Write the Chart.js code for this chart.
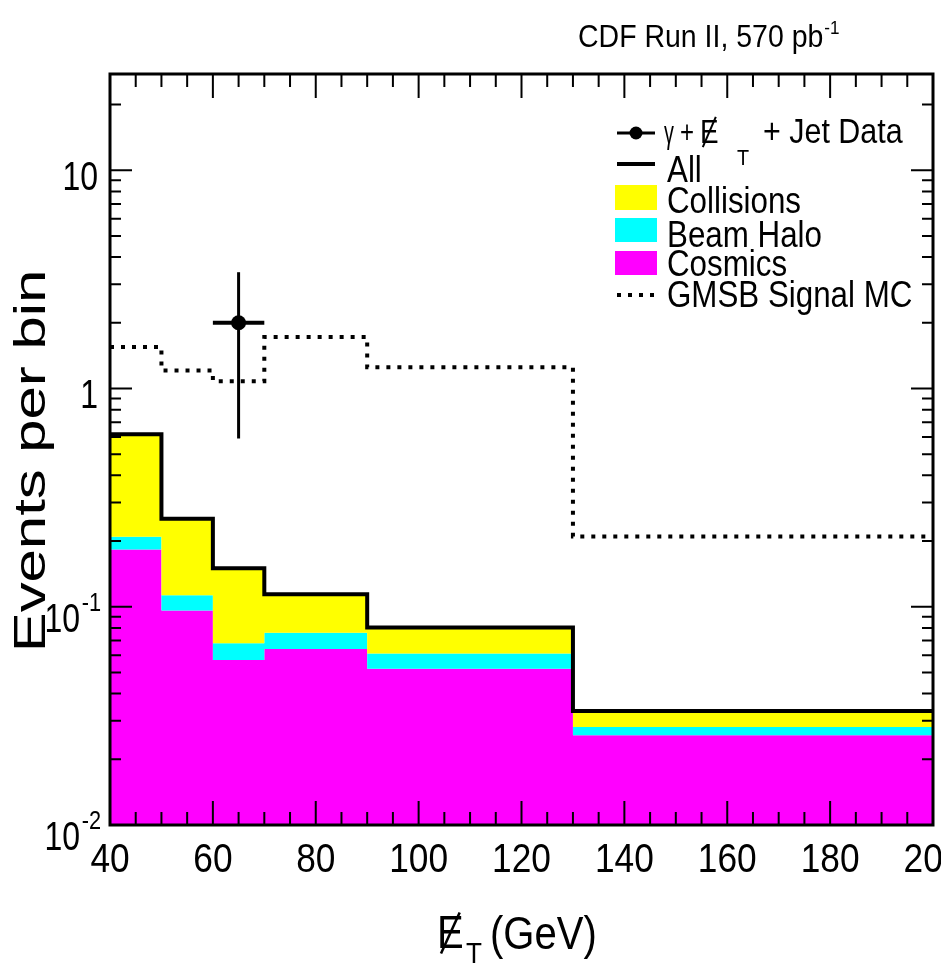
<!DOCTYPE html>
<html>
<head>
<meta charset="utf-8">
<script src="https://cdn.jsdelivr.net/npm/chart.js@4.4.1/dist/chart.umd.min.js"></script>
<style>
  html, body { margin: 0; padding: 0; background: #fff; overflow: hidden; }
  #caixa { position: relative; width: 941px; height: 966px; }
</style>
</head>
<body>
<div id="caixa"><canvas id="grafico"></canvas></div>
<script>
// --- DADOS ---
const binEdges = [40, 50, 60, 70, 90, 130, 200];
const cosmics = [0.183, 0.096, 0.057, 0.064, 0.052, 0.0258];
const beamHalo = [0.026, 0.017, 0.011, 0.012, 0.009, 0.0023];
const collisions = [0.408, 0.140, 0.082, 0.038, 0.0194, 0.0052];
const gmsbSignal = [1.55, 1.21, 1.08, 1.72, 1.25, 0.21];

const dataX = [65];
const dataY = [2];
const dataErrX = [5];
const dataErrY = [1.41];

const xTicks = [40, 60, 80, 100, 120, 140, 160, 180, 200];
const yTickValues = [0.01, 0.1, 1, 10];
const yTickBase = ['10', '10', '1', '10'];
const yTickExp = ['-2', '-1', '', ''];

const FONTE = '"Liberation Sans", Arial, Helvetica, sans-serif';

// histograma em degraus: um ponto por borda de bin, o último repete o valor
function degraus(valores) {
    return binEdges.map((x, i) => ({ x, y: valores[Math.min(i, valores.length - 1)] }));
}

const somaHalo = cosmics.map((v, i) => v + beamHalo[i]);
const somaTodos = somaHalo.map((v, i) => v + collisions[i]);

function texto(ctx, str, x, y, tam, sx, alinh) {
    ctx.save();
    ctx.font = tam + 'px ' + FONTE;
    ctx.textAlign = alinh || 'left';
    ctx.textBaseline = 'alphabetic';
    ctx.fillStyle = '#000';
    ctx.translate(x, y);
    ctx.scale(sx, 1);
    ctx.fillText(str, 0, 0);
    const w = ctx.measureText(str).width * sx;
    ctx.restore();
    return w;
}

// E com barra (energia transversa faltante)
function eBarrado(ctx, x, y, tam, sx) {
    const w = texto(ctx, 'E', x, y, tam, sx);
    const alt = tam * 0.72;
    ctx.save();
    ctx.strokeStyle = '#000';
    ctx.lineWidth = Math.max(2, tam / 18);
    ctx.beginPath();
    ctx.moveTo(x + w * 0.15, y + tam * 0.12);
    ctx.lineTo(x + w * 0.85, y - alt - tam * 0.05);
    ctx.stroke();
    ctx.restore();
    return w;
}

// --- MOLDURA E MARCAS DOS EIXOS (estilo ROOT, marcas para dentro) ---
const moldura = {
    id: 'moldura',
    afterDatasetsDraw(chart) {
        const { ctx, chartArea: a, scales } = chart;
        const xs = scales.x, ys = scales.y;
        ctx.save();
        ctx.strokeStyle = '#000';
        ctx.lineWidth = 2;
        ctx.beginPath();
        for (let v = xs.min; v <= xs.max; v += 5) {
            const px = xs.getPixelForValue(v);
            const len = v % 20 === 0 ? 24 : 13;
            ctx.moveTo(px, a.bottom); ctx.lineTo(px, a.bottom - len);
            ctx.moveTo(px, a.top); ctx.lineTo(px, a.top + len);
        }
        for (let d = -2; d <= 1; d++) {
            for (let m = 1; m <= 9; m++) {
                const v = m * Math.pow(10, d);
                if (v > ys.max) break;
                const py = ys.getPixelForValue(v);
                const len = m === 1 ? 22 : 11;
                ctx.moveTo(a.left, py); ctx.lineTo(a.left + len, py);
                ctx.moveTo(a.right, py); ctx.lineTo(a.right - len, py);
            }
        }
        ctx.stroke();
        ctx.lineWidth = 3;
        ctx.strokeRect(a.left, a.top, a.right - a.left, a.bottom - a.top);
        ctx.restore();
    },
    afterDraw(chart) {
        const { ctx, scales } = chart;
        const xs = scales.x, ys = scales.y;

        // rótulos do eixo x
        xTicks.forEach(v => texto(ctx, String(v), xs.getPixelForValue(v), 872, 41, 0.86, 'center'));

        // rótulos do eixo y (potências de dez)
        yTickValues.forEach((v, i) => {
            const py = ys.getPixelForValue(v);
            if (yTickExp[i]) {
                texto(ctx, yTickExp[i], 101, py + 4, 25, 0.87, 'right');
                texto(ctx, yTickBase[i], 80, py + 25, 40, 0.8, 'right');
            } else {
                texto(ctx, yTickBase[i], 98, py + 20, 40, 0.8, 'right');
            }
        });

        // título do eixo x
        eBarrado(ctx, 437, 948, 46, 0.87);
        texto(ctx, 'T', 466, 963, 30, 0.87);
        texto(ctx, '(GeV)', 490, 949, 46, 0.87);

        // título do eixo y
        ctx.save();
        ctx.translate(45, 461);
        ctx.rotate(-Math.PI / 2);
        ctx.scale(1.36, 1);
        ctx.font = '44px ' + FONTE;
        ctx.textAlign = 'center';
        ctx.fillStyle = '#000';
        ctx.fillText('Events per bin', 0, 0);
        ctx.restore();

        // cabeçalho
        const w = texto(ctx, 'CDF Run II, 570 pb', 578, 47, 32, 0.89);
        texto(ctx, '-1', 578 + w + 1, 34, 19, 0.9);

        // --- LEGENDA ---
        ctx.save();
        ctx.strokeStyle = '#000';
        ctx.fillStyle = '#000';
        ctx.lineWidth = 3;
        ctx.beginPath();
        ctx.moveTo(617, 133); ctx.lineTo(655, 133);
        ctx.stroke();
        ctx.beginPath();
        ctx.arc(636, 133, 6.5, 0, Math.PI * 2);
        ctx.fill();
        ctx.lineWidth = 4;
        ctx.beginPath();
        ctx.moveTo(617, 164); ctx.lineTo(655, 164);
        ctx.stroke();
        ctx.fillStyle = '#ffff00'; ctx.fillRect(615, 185, 42, 25);
        ctx.fillStyle = '#00ffff'; ctx.fillRect(615, 218, 42, 24);
        ctx.fillStyle = '#ff00ff'; ctx.fillRect(615, 251, 42, 24);
        ctx.setLineDash([4, 7]);
        ctx.beginPath();
        ctx.moveTo(617, 295); ctx.lineTo(660, 295);
        ctx.stroke();
        ctx.restore();

        texto(ctx, 'γ', 664, 143, 32, 0.62);
        texto(ctx, '+', 680, 143, 32, 0.75);
        eBarrado(ctx, 700, 143, 34, 0.82);
        texto(ctx, 'T', 737, 165, 22, 0.9);
        texto(ctx, '+ Jet Data', 763, 143, 35, 0.87);
        texto(ctx, 'All', 667, 182, 36, 0.87);
        texto(ctx, 'Collisions', 667, 213, 36, 0.87);
        texto(ctx, 'Beam Halo', 667, 247, 36, 0.87);
        texto(ctx, 'Cosmics', 667, 276, 36, 0.87);
        texto(ctx, 'GMSB Signal MC', 667, 307, 36, 0.87);
    }
};

const linhaBase = {
    type: 'line',
    stepped: true,
    pointRadius: 0,
    borderJoinStyle: 'miter',
    borderCapStyle: 'butt'
};

const ctx = document.getElementById('grafico').getContext('2d');
const grafico = new Chart(ctx, {
    type: 'line',
    data: {
        datasets: [
            { ...linhaBase, label: 'Cosmics', data: degraus(cosmics), borderWidth: 0,
              backgroundColor: '#ff00ff', fill: 'start', order: 7 },
            { ...linhaBase, label: 'Beam Halo', data: degraus(somaHalo), borderWidth: 0,
              backgroundColor: '#00ffff', fill: '-1', order: 6 },
            { ...linhaBase, label: 'Collisions', data: degraus(somaTodos), borderWidth: 0,
              backgroundColor: '#ffff00', fill: '-1', order: 5 },
            { ...linhaBase, label: 'All', data: degraus(somaTodos), borderWidth: 4,
              borderColor: '#000', fill: false, order: 4 },
            { ...linhaBase, label: 'GMSB Signal MC', data: degraus(gmsbSignal), borderWidth: 4,
              borderColor: '#000', borderDash: [4, 7], fill: false, order: 3 },
            { type: 'line', label: 'errX', borderColor: '#000', borderWidth: 4, pointRadius: 0, fill: false, order: 2,
              data: [{ x: dataX[0] - dataErrX[0], y: dataY[0] }, { x: dataX[0] + dataErrX[0], y: dataY[0] }] },
            { type: 'line', label: 'errY', borderColor: '#000', borderWidth: 3, pointRadius: 0, fill: false, order: 1,
              data: [{ x: dataX[0], y: dataY[0] - dataErrY[0] }, { x: dataX[0], y: dataY[0] + dataErrY[0] }] },
            { type: 'line', label: 'Data', showLine: false, pointRadius: 7.5, pointStyle: 'circle',
              pointBackgroundColor: '#000', pointBorderColor: '#000', pointBorderWidth: 0, order: 0,
              data: dataX.map((x, i) => ({ x, y: dataY[i] })) }
        ]
    },
    options: {
        responsive: true,
        maintainAspectRatio: false,
        animation: false,
        events: [],
        layout: { padding: { left: 110, top: 74, right: 8, bottom: 141 } },
        plugins: { legend: { display: false }, tooltip: { enabled: false } },
        scales: {
            x: { type: 'linear', min: 40, max: 200, display: false },
            y: { type: 'logarithmic', min: 0.01, max: 27.6, display: false }
        }
    },
    plugins: [moldura]
});
</script>
</body>
</html>
